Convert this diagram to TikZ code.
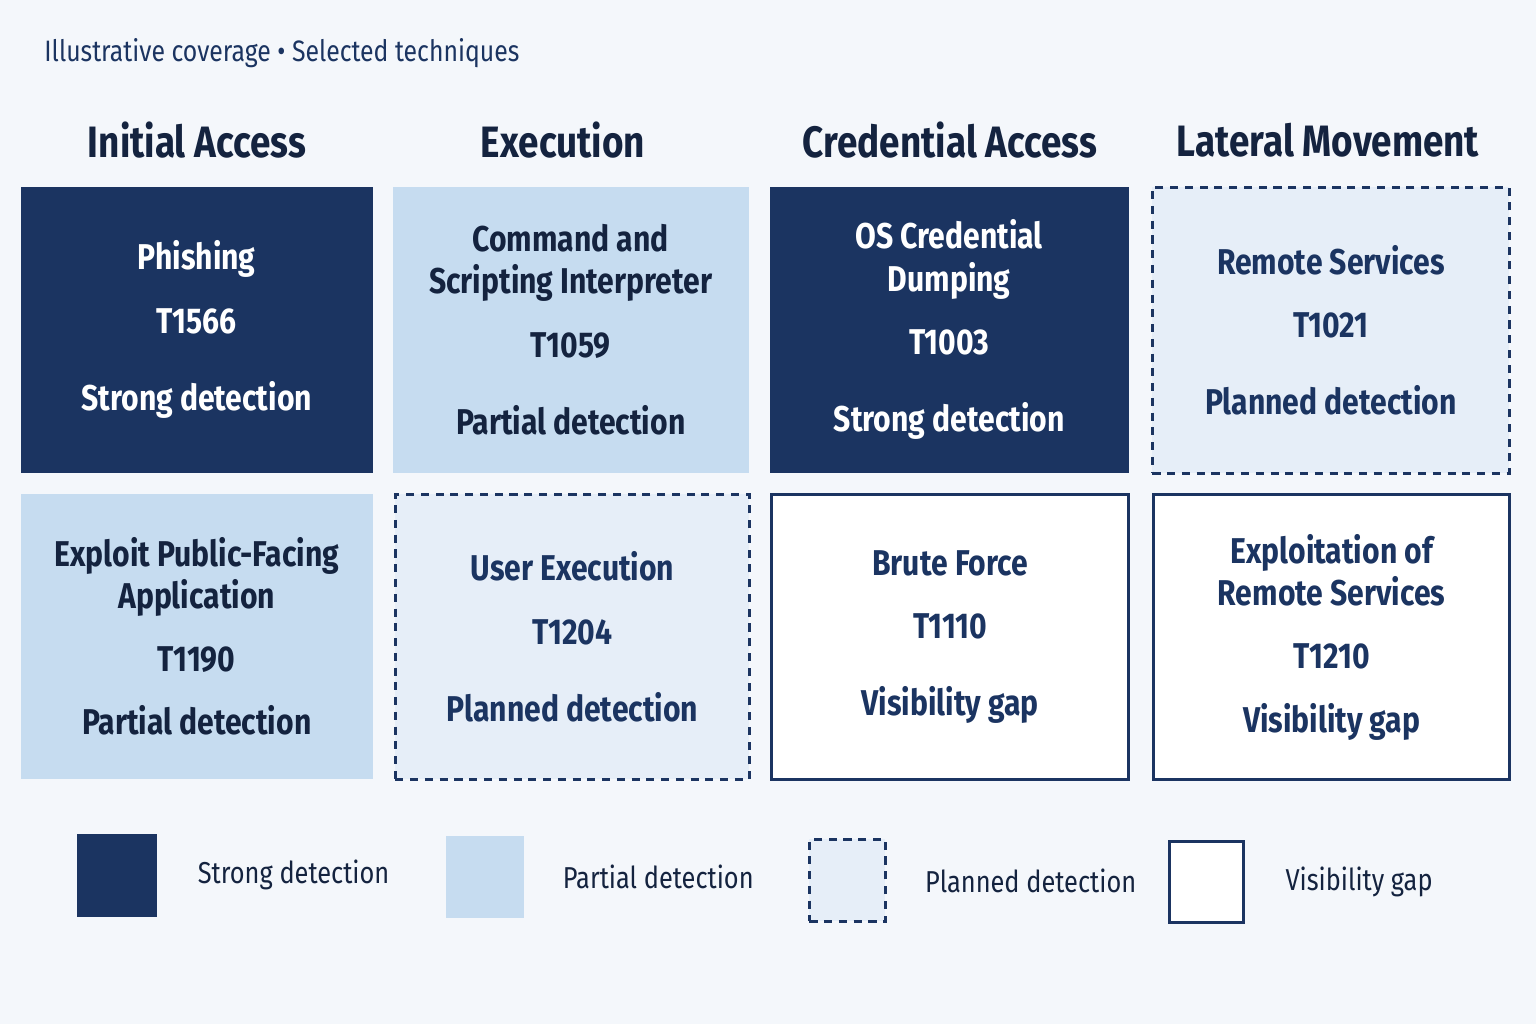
\documentclass[tikz,border=0pt]{standalone}
\usepackage{fontspec}
\setmainfont[FakeStretch=0.84]{Fira Sans}
\usetikzlibrary{positioning}
\definecolor{navy}{HTML}{1B3461}
\definecolor{inkdark}{HTML}{14233F}
\definecolor{partial}{HTML}{C6DCF0}
\definecolor{planned}{HTML}{E6EEF8}
\definecolor{paper}{HTML}{F4F7FB}

\tikzset{
  cell/.style={anchor=north west, inner sep=0pt, align=center, font=\fontsize{10.2}{12}\selectfont\bfseries},
  strong/.style={cell, fill=navy, text=white},
  partialc/.style={cell, fill=partial, text=inkdark},
  plannedc/.style={cell, fill=planned, draw=navy, line width=0.8pt, dash pattern=on 2.3pt off 1.9pt, text=navy},
  gapc/.style={cell, fill=white, draw=navy, line width=0.9pt, text=navy},
  head/.style={font=\fontsize{12.5}{14}\selectfont\bfseries, text=inkdark},
  legtext/.style={anchor=west, font=\fontsize{8.6}{10}\selectfont, text=inkdark}
}
% one cell: name, x, y, width, height, style, text
\newcommand{\tcell}[7]{\node[#6, minimum width=#4cm, minimum height=#5cm] (#1) at (#2,#3) {#7};}

\begin{document}
\begin{tikzpicture}[x=1cm, y=-1cm]
\fill[paper] (0,0) rectangle (15.36,10.24);

\node[anchor=west, font=\fontsize{8.4}{10}\selectfont, text=navy] (caption) at (0.32,0.53) {Illustrative coverage • Selected techniques};

\node[head] (hInit) at (1.97,1.40) {Initial Access};
\node[head] (hExec) at (5.63,1.40) {Execution};
\node[head] (hCred) at (9.50,1.40) {Credential Access};
\node[head] (hLat)  at (13.28,1.40) {Lateral Movement};

%--- row one
\tcell{phish}{0.20}{1.86}{3.52}{2.86}{strong}{Phishing\\[6pt]T1566\\[10pt]Strong detection}
\tcell{cmd}{3.92}{1.86}{3.56}{2.86}{partialc}{Command and\\Scripting Interpreter\\[6pt]T1059\\[10pt]Partial detection}
\tcell{osdump}{7.69}{1.86}{3.59}{2.86}{strong}{OS Credential\\Dumping\\[6pt]T1003\\[10pt]Strong detection}
\tcell{remote}{11.51}{1.86}{3.57}{2.86}{plannedc}{Remote Services\\[6pt]T1021\\[10pt]Planned detection}

%--- row two
\tcell{exploit}{0.20}{4.93}{3.52}{2.85}{partialc}{Exploit Public-Facing\\Application\\[6pt]T1190\\[6pt]Partial detection}
\tcell{user}{3.94}{4.93}{3.54}{2.85}{plannedc}{User Execution\\[6pt]T1204\\[10pt]Planned detection}
\tcell{brute}{7.70}{4.93}{3.57}{2.85}{gapc}{Brute Force\\[6pt]T1110\\[10pt]Visibility gap}
\tcell{exrem}{11.52}{4.93}{3.56}{2.85}{gapc}{Exploitation of\\Remote Services\\[6pt]T1210\\[6pt]Visibility gap}

%--- legend
\tcell{kStrong}{0.76}{8.33}{0.80}{0.83}{strong}{}
\tcell{kPartial}{4.45}{8.35}{0.78}{0.82}{partialc}{}
\tcell{kPlanned}{8.08}{8.38}{0.76}{0.82}{plannedc}{}
\tcell{kGap}{11.68}{8.40}{0.74}{0.81}{gapc}{}
\node[legtext, right=0.28cm of kStrong]  (lStrong)  {Strong detection};
\node[legtext, right=0.26cm of kPartial] (lPartial) {Partial detection};
\node[legtext, right=0.26cm of kPlanned] (lPlanned) {Planned detection};
\node[legtext, right=0.28cm of kGap]     (lGap)     {Visibility gap};
\end{tikzpicture}
\end{document}
